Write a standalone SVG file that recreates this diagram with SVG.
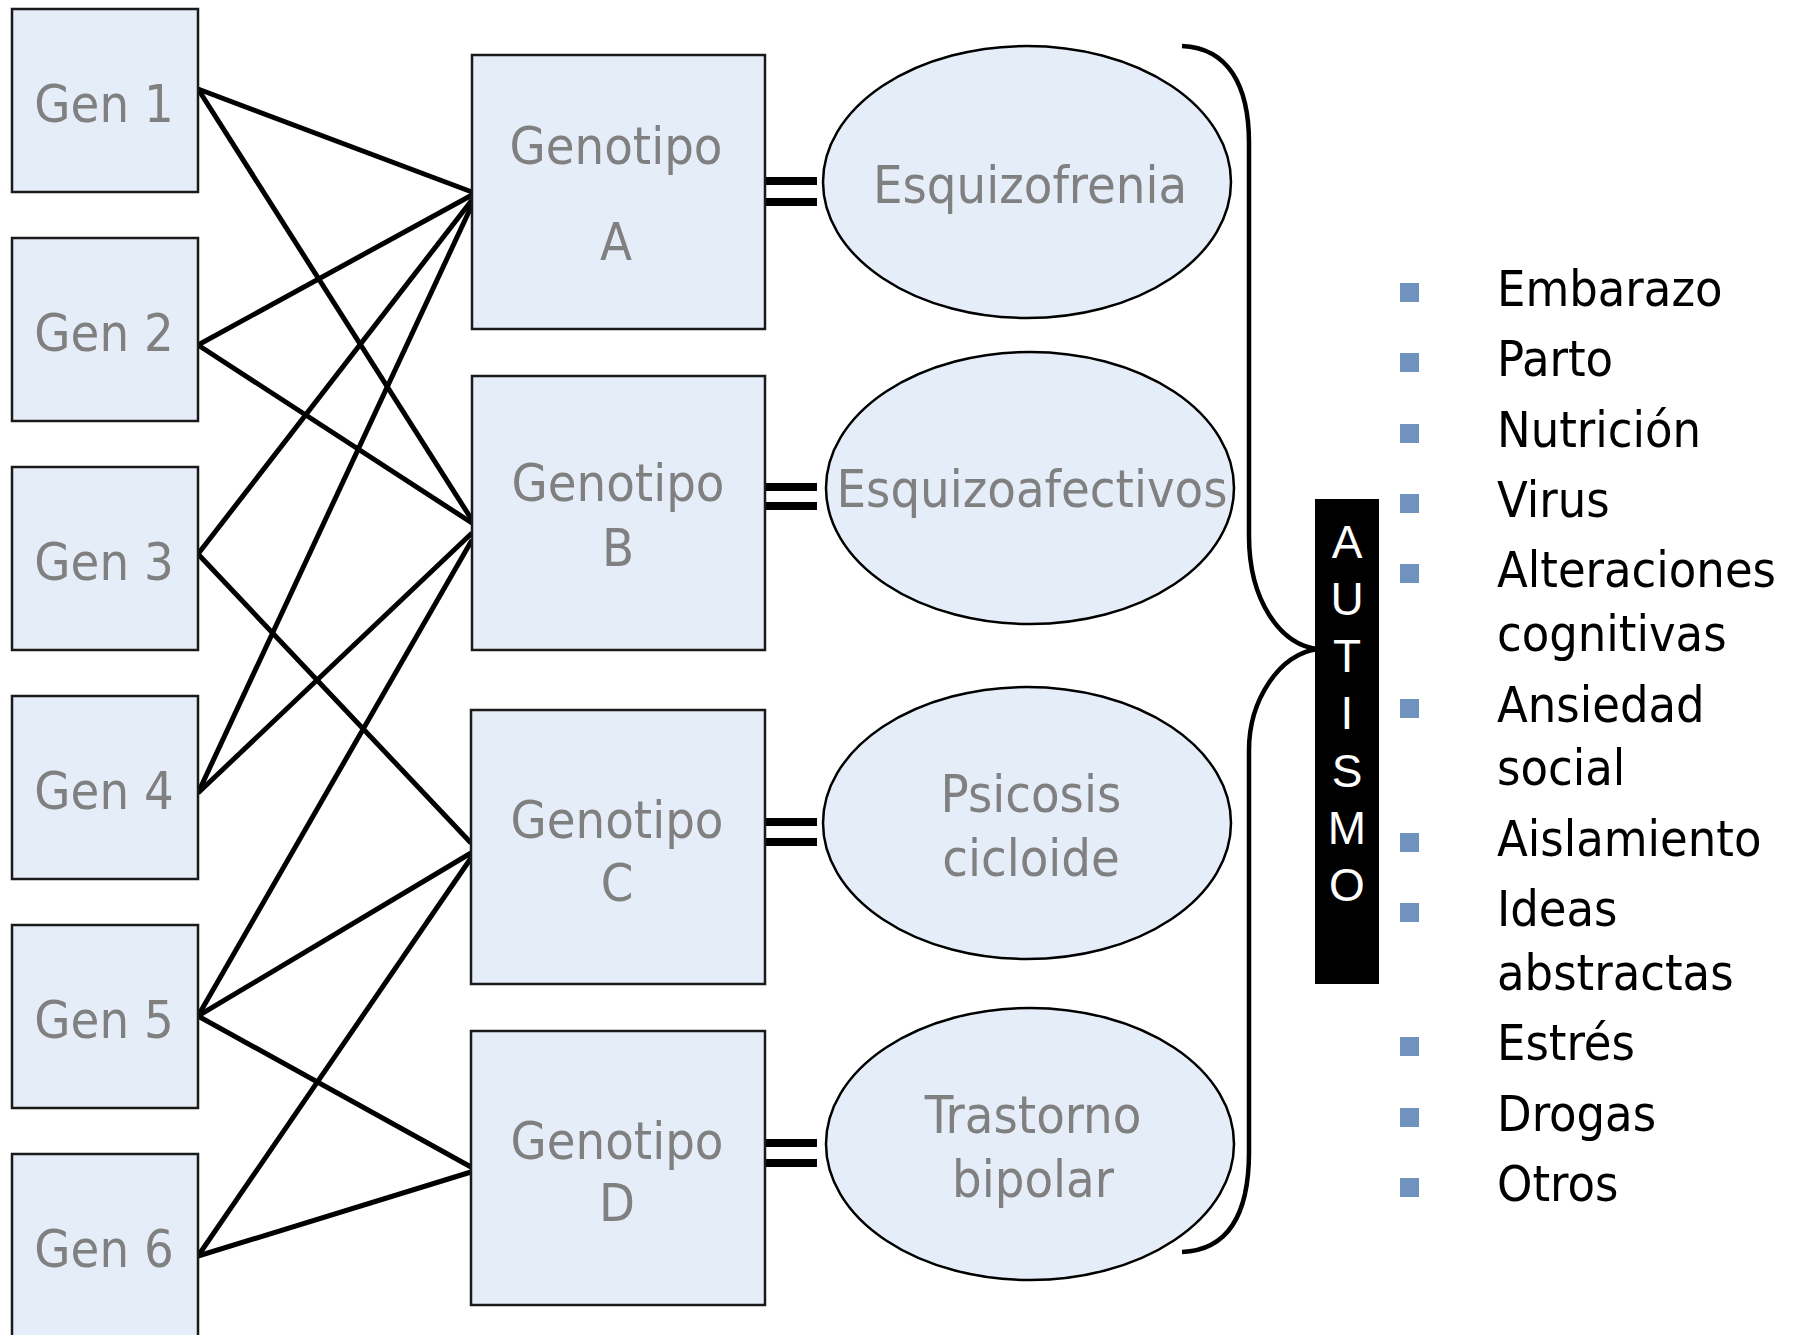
<svg xmlns="http://www.w3.org/2000/svg" width="1798" height="1335" viewBox="0 0 1798 1335">
<style>
.box{fill:#E5EDF8;stroke:#1a1a1a;stroke-width:2.5}
.ell{fill:#E5EDF8;stroke:#000;stroke-width:2.5}
.gt{font-family:"DejaVu Sans Condensed","DejaVu Sans",sans-serif;font-stretch:condensed;font-size:52px;fill:#808080;text-anchor:middle}
.ln{stroke:#000;stroke-width:5;fill:none}
.eq{fill:#000}
.brace{fill:none;stroke:#000;stroke-width:4.5}
.li{font-family:"DejaVu Sans Condensed","DejaVu Sans",sans-serif;font-stretch:condensed;font-size:50px;fill:#000}
.bul{fill:#7092BE}
.aut{font-family:"Liberation Sans",Arial,sans-serif;font-size:46px;fill:#fff;text-anchor:middle}
</style>
<rect width="1798" height="1335" fill="#fff"/>
<g id="connectors">
<line class="ln" x1="198" y1="89" x2="472" y2="192"/>
<line class="ln" x1="198" y1="89" x2="472" y2="520"/>
<line class="ln" x1="198" y1="345" x2="472" y2="195"/>
<line class="ln" x1="198" y1="345" x2="472" y2="523"/>
<line class="ln" x1="198" y1="554" x2="472" y2="200"/>
<line class="ln" x1="198" y1="554" x2="471" y2="843"/>
<line class="ln" x1="198" y1="793" x2="472" y2="205"/>
<line class="ln" x1="198" y1="793" x2="472" y2="533"/>
<line class="ln" x1="198" y1="1016" x2="472" y2="540"/>
<line class="ln" x1="198" y1="1016" x2="471" y2="853"/>
<line class="ln" x1="198" y1="1016" x2="471" y2="1167"/>
<line class="ln" x1="198" y1="1256" x2="471" y2="858"/>
<line class="ln" x1="198" y1="1256" x2="471" y2="1172"/>
<rect class="eq" x="765" y="177" width="52" height="8"/>
<rect class="eq" x="765" y="198" width="52" height="8"/>
<rect class="eq" x="765" y="483" width="52" height="8"/>
<rect class="eq" x="765" y="502" width="52" height="8"/>
<rect class="eq" x="765" y="818" width="52" height="8"/>
<rect class="eq" x="765" y="838" width="52" height="8"/>
<rect class="eq" x="765" y="1139" width="52" height="8"/>
<rect class="eq" x="765" y="1159" width="52" height="8"/>
<path class="brace" d="M1182,46 C1228,48 1249,85 1249,143 L1249,536 C1249,600 1280,645 1318,649 C1280,653 1249,700 1249,750 L1249,1152 C1249,1215 1228,1250 1182,1252"/>
</g>
<g id="gen1"><rect class="box" x="12" y="9" width="186" height="183"/><text class="gt" x="104" y="122">Gen 1</text></g>
<g id="gen2"><rect class="box" x="12" y="238" width="186" height="183"/><text class="gt" x="104" y="351">Gen 2</text></g>
<g id="gen3"><rect class="box" x="12" y="467" width="186" height="183"/><text class="gt" x="104" y="580">Gen 3</text></g>
<g id="gen4"><rect class="box" x="12" y="696" width="186" height="183"/><text class="gt" x="104" y="809">Gen 4</text></g>
<g id="gen5"><rect class="box" x="12" y="925" width="186" height="183"/><text class="gt" x="104" y="1038">Gen 5</text></g>
<g id="gen6"><rect class="box" x="12" y="1154" width="186" height="183"/><text class="gt" x="104" y="1267">Gen 6</text></g>
<g id="genotipoA"><rect class="box" x="472" y="55" width="293" height="274"/><text class="gt" x="616" y="164">Genotipo</text><text class="gt" x="616" y="260">A</text></g>
<g id="genotipoB"><rect class="box" x="472" y="376" width="293" height="274"/><text class="gt" x="618" y="501">Genotipo</text><text class="gt" x="618" y="566">B</text></g>
<g id="genotipoC"><rect class="box" x="471" y="710" width="294" height="274"/><text class="gt" x="617" y="838">Genotipo</text><text class="gt" x="617" y="901">C</text></g>
<g id="genotipoD"><rect class="box" x="471" y="1031" width="294" height="274"/><text class="gt" x="617" y="1159">Genotipo</text><text class="gt" x="617" y="1221">D</text></g>
<g id="esquizofrenia"><ellipse class="ell" cx="1027" cy="182" rx="204" ry="136"/><text class="gt" x="1030" y="203">Esquizofrenia</text></g>
<g id="esquizoafectivos"><ellipse class="ell" cx="1030" cy="488" rx="204" ry="136"/><text class="gt" x="1032" y="507">Esquizoafectivos</text></g>
<g id="psicosis"><ellipse class="ell" cx="1027" cy="823" rx="204" ry="136"/><text class="gt" x="1031" y="812">Psicosis</text><text class="gt" x="1031" y="876">cicloide</text></g>
<g id="trastorno"><ellipse class="ell" cx="1030" cy="1144" rx="204" ry="136"/><text class="gt" x="1033" y="1133">Trastorno</text><text class="gt" x="1033" y="1197">bipolar</text></g>
<g id="autismo"><rect x="1315" y="499" width="64" height="485" fill="#000"/>
<text class="aut" x="1347" y="558">A</text><text class="aut" x="1347" y="615">U</text><text class="aut" x="1347" y="672">T</text><text class="aut" x="1347" y="729">I</text><text class="aut" x="1347" y="787">S</text><text class="aut" x="1347" y="844">M</text><text class="aut" x="1347" y="901">O</text></g>
<g id="factores">
<rect class="bul" x="1400" y="283" width="19" height="19"/><text class="li" x="1497" y="306">Embarazo</text>
<rect class="bul" x="1400" y="353" width="19" height="19"/><text class="li" x="1497" y="376">Parto</text>
<rect class="bul" x="1400" y="424" width="19" height="19"/><text class="li" x="1497" y="447">Nutrición</text>
<rect class="bul" x="1400" y="494" width="19" height="19"/><text class="li" x="1497" y="517">Virus</text>
<rect class="bul" x="1400" y="564" width="19" height="19"/><text class="li" x="1497" y="587">Alteraciones</text><text class="li" x="1497" y="651">cognitivas</text>
<rect class="bul" x="1400" y="699" width="19" height="19"/><text class="li" x="1497" y="722">Ansiedad</text><text class="li" x="1497" y="785">social</text>
<rect class="bul" x="1400" y="833" width="19" height="19"/><text class="li" x="1497" y="856">Aislamiento</text>
<rect class="bul" x="1400" y="903" width="19" height="19"/><text class="li" x="1497" y="926">Ideas</text><text class="li" x="1497" y="990">abstractas</text>
<rect class="bul" x="1400" y="1037" width="19" height="19"/><text class="li" x="1497" y="1060">Estrés</text>
<rect class="bul" x="1400" y="1108" width="19" height="19"/><text class="li" x="1497" y="1131">Drogas</text>
<rect class="bul" x="1400" y="1178" width="19" height="19"/><text class="li" x="1497" y="1201">Otros</text>
</g>
</svg>
